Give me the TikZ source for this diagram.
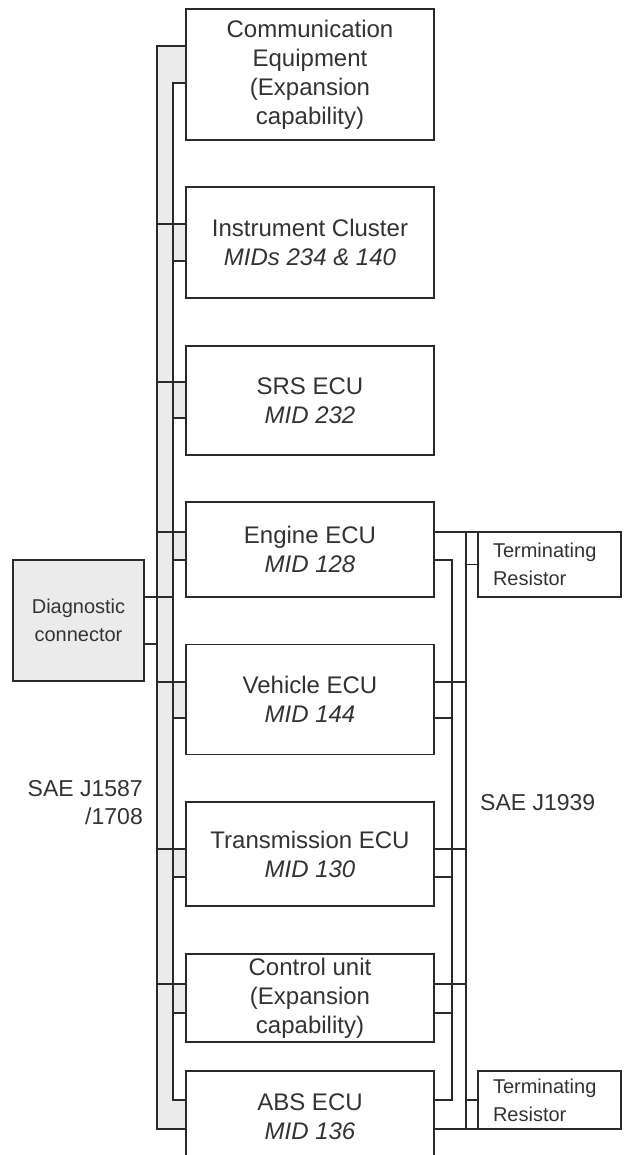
\documentclass[tikz,border=0pt]{standalone}
\usepackage{fontspec}
\setmainfont{Liberation Sans}
\usetikzlibrary{backgrounds}

\definecolor{inkgray}{HTML}{2A2A2A}
\definecolor{bandgray}{HTML}{EBEBEB}
\definecolor{txtgray}{HTML}{333333}
\newcommand\ecufont{\fontsize{24}{29}\selectfont}
\newcommand\termfont{\fontsize{20}{28}\selectfont}
\newcommand\busfont{\fontsize{23}{28}\selectfont}

\begin{document}
\begin{tikzpicture}[x=1pt,y=-1pt,
    ecu/.style={draw=inkgray, fill=white, line width=1.6pt, outer sep=0pt,
      inner sep=0pt, minimum width=248pt, align=center, font=\ecufont,
      text=txtgray},
    termbox/.style={draw=inkgray, fill=white, line width=1.6pt, outer sep=0pt,
      inner xsep=15pt, inner ysep=0pt, text width=113pt, align=left,
      font=\termfont, text=txtgray},
    diagbox/.style={draw=inkgray, fill=bandgray, line width=1.6pt,
      outer sep=0pt, inner sep=0pt, minimum width=131pt,
      minimum height=121pt, align=center, font=\termfont, text=txtgray},
    bus/.style={draw=inkgray, line width=1.6pt},
    buslabel/.style={inner sep=0pt, font=\busfont, text=txtgray}]
  \useasboundingbox (0,0) rectangle (626,1155);

  % control units
  \node[ecu, minimum height=131pt] (comm) at (310,74.5)
    {Communication\\Equipment\\(Expansion\\capability)};
  \node[ecu, minimum height=111pt] (instr) at (310,242.5)
    {Instrument Cluster\\\textit{MIDs 234 \& 140}};
  \node[ecu, minimum height=109pt] (srs) at (310,400.5)
    {SRS ECU\\\textit{MID 232}};
  \node[ecu, minimum height=95pt] (eng) at (310,549.5)
    {Engine ECU\\\textit{MID 128}};
  \node[ecu, minimum height=110pt] (veh) at (310,699.5)
    {Vehicle ECU\\\textit{MID 144}};
  \node[ecu, minimum height=104pt] (trans) at (310,854)
    {Transmission ECU\\\textit{MID 130}};
  \node[ecu, minimum height=88pt] (ctrl) at (310,998)
    {Control unit\\(Expansion\\capability)};
  \node[ecu, minimum height=92pt] (abs) at (310,1117)
    {ABS ECU\\\textit{MID 136}};

  \node[diagbox] (diag) at (78.5,620.5) {Diagnostic\\connector};
  \node[termbox, minimum height=65pt] (term1) at (549.5,564.5)
    {Terminating\\Resistor};
  \node[termbox, minimum height=58pt] (term2) at (549.5,1100)
    {Terminating\\Resistor};

  \node[buslabel, anchor=east, align=right] (j1587) at (143,803)
    {SAE J1587\\/1708};
  \node[buslabel, anchor=west, align=left] (j1939) at (480,803)
    {SAE J1939};

  % bus corners
  \coordinate (lot) at (157,46);
  \coordinate (lob) at (157,1129);
  \coordinate (lit) at (173,83);
  \coordinate (lib) at (173,1100);
  \coordinate (rot) at (466,532);
  \coordinate (rob) at (466,1129);
  \coordinate (rit) at (452,560);
  \coordinate (rib) at (452,1100);

  \begin{pgfonlayer}{background}
    \fill[bandgray] (lot) -- (comm.west |- lot) -- (comm.west |- lit)
      -- (lit) -- (lib) -- (abs.west |- lib) -- (abs.west |- lob)
      -- (lob) -- cycle;
    \foreach \n/\yo/\yi in {instr/224/261, srs/382/418, eng/532/560,
        veh/682/718, trans/849/877, ctrl/984/1013}
      \fill[bandgray] (lit |- 0,\yo) rectangle (\n.west |- 0,\yi);
  \end{pgfonlayer}

  % J1587/1708
  \draw[bus] (comm.west |- lot) -- (lot) -- (lob) -- (abs.west |- lob);
  \draw[bus] (comm.west |- lit) -- (lit) -- (lib) -- (abs.west |- lib);
  \foreach \n/\yo/\yi in {instr/224/261, srs/382/418, eng/532/560,
      veh/682/718, trans/849/877, ctrl/984/1013} {
    \draw[bus] (\n.west |- 0,\yo) -- (lot |- 0,\yo);
    \draw[bus] (\n.west |- 0,\yi) -- (lit |- 0,\yi);
  }
  \draw[bus] (diag.east |- 0,597) -- (lit |- 0,597);
  \draw[bus] (diag.east |- 0,644) -- (lot |- 0,644);

  % J1939
  \draw[bus] (eng.east |- rot) -- (term1.north west);
  \draw[bus] (eng.east |- rit) -- (rit) -- (rib) -- (abs.east |- rib);
  \draw[bus] (rot) -- (rob) -- (abs.east |- rob);
  \draw[bus] (rob) -- (term2.south west);
  \draw[bus] (rot |- term1.west) -- (term1.west);
  \draw[bus] (rot |- term2.west) -- (term2.west);
  \foreach \n/\yo/\yi in {veh/682/718, trans/849/877, ctrl/984/1013} {
    \draw[bus] (\n.east |- 0,\yo) -- (rot |- 0,\yo);
    \draw[bus] (\n.east |- 0,\yi) -- (rit |- 0,\yi);
  }
\end{tikzpicture}
\end{document}
